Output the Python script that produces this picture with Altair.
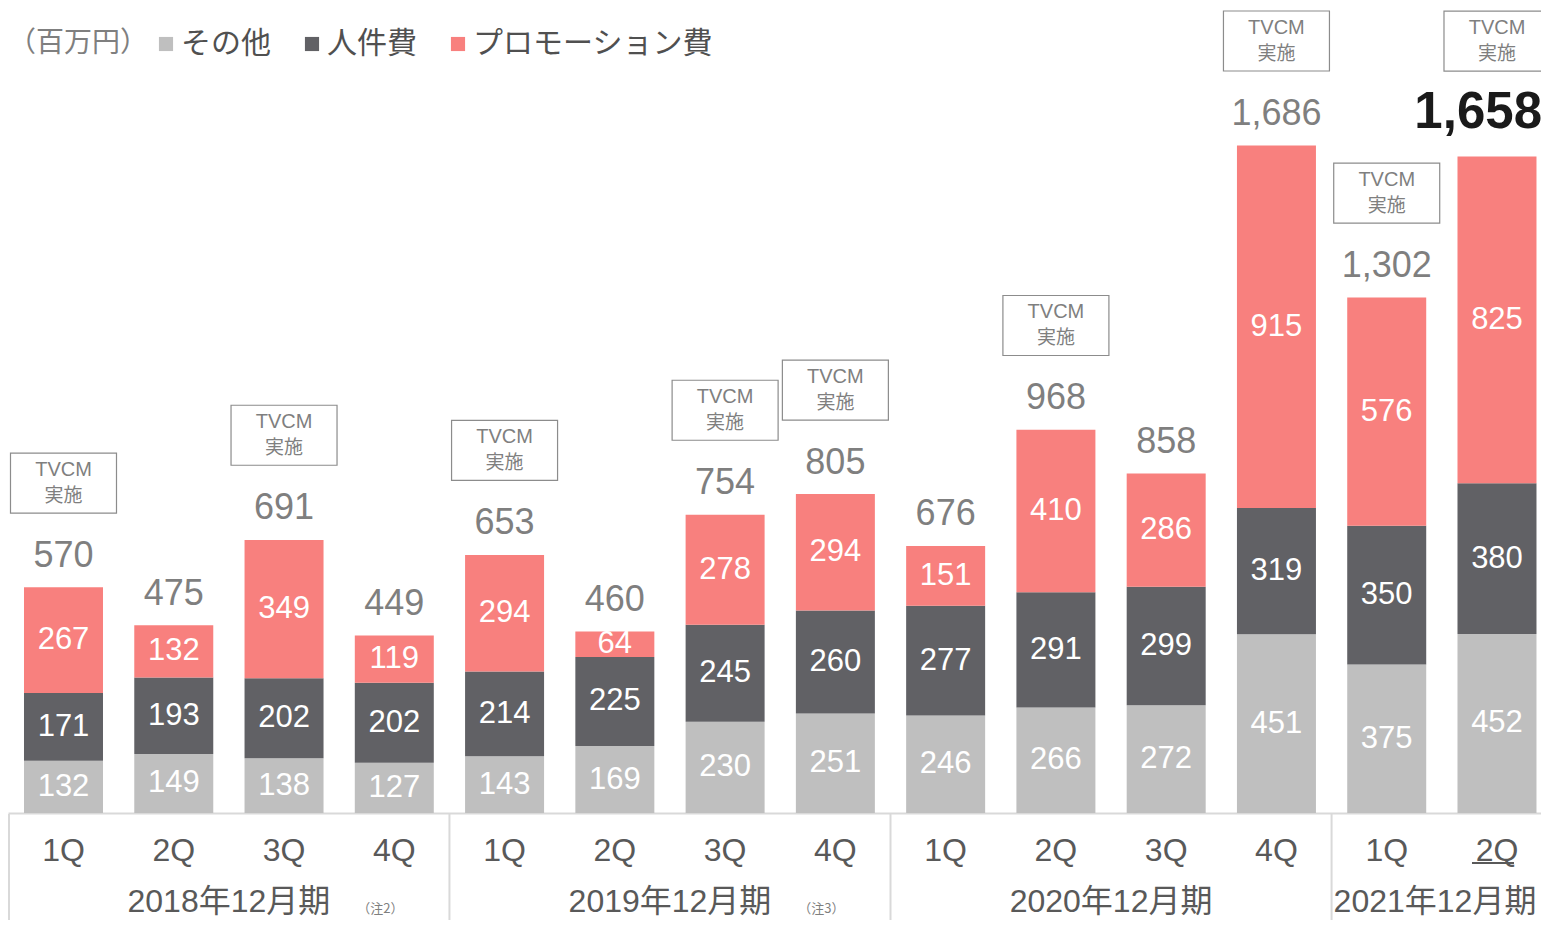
import altair as alt
import pandas as pd

# ---------------- data ----------------
years = ["2018年12月期"] * 4 + ["2019年12月期"] * 4 + ["2020年12月期"] * 4 + ["2021年12月期"] * 2
quarters = ["1Q", "2Q", "3Q", "4Q"] * 3 + ["1Q", "2Q"]
other = [132, 149, 138, 127, 143, 169, 230, 251, 246, 266, 272, 451, 375, 452]
labor = [171, 193, 202, 202, 214, 225, 245, 260, 277, 291, 299, 319, 350, 380]
promo = [267, 132, 349, 119, 294, 64, 278, 294, 151, 410, 286, 915, 576, 825]
totals = [570, 475, 691, 449, 653, 460, 754, 805, 676, 968, 858, 1686, 1302, 1658]
tvcm = [1, 0, 1, 0, 1, 0, 1, 1, 0, 1, 0, 1, 1, 1]
highlight = [0] * 13 + [1]
series = ["その他", "人件費", "プロモーション費"]
colors = ["#bfbfbf", "#616165", "#f8807e"]
year_names = ["2018年12月期", "2019年12月期", "2020年12月期", "2021年12月期"]
notes = ["（注2）", "（注3）", "", ""]
unit_title = "（百万円）"
box_line1 = "TVCM"
box_line2 = "実施"

keys = [f"{y}-{q}" for y, q in zip(years, quarters)]

rows = []
for i, k in enumerate(keys):
    for j, (s, vals) in enumerate(zip(series, [other, labor, promo])):
        rows.append({"key": k, "series": s, "ord": j, "value": vals[i]})
long_df = pd.DataFrame(rows)
tot_df = pd.DataFrame({"key": keys, "total": totals, "tvcm": tvcm, "hl": highlight})

# ---------------- layout constants ----------------
W, H = 1533, 805
BOTTOM = 107
P_IN, P_OUT, ALIGN = 0.2836, 0.093, 0.78
n = len(keys)
step = W / (n - P_IN + 2 * P_OUT)
start = (W - step * (n - P_IN)) * ALIGN
bw = step * (1 - P_IN)
centers = [start + step * i + bw / 2 for i in range(n)]

NUM_FONT = "Liberation Sans, Arial, Noto Sans CJK JP"
CJK_FONT = "Noto Sans CJK JP, Liberation Sans"

xenc = alt.X(
    "key:N",
    sort=keys,
    scale=alt.Scale(paddingInner=P_IN, paddingOuter=P_OUT, align=ALIGN),
    axis=alt.Axis(
        title=None,
        labelExpr="split(datum.label, '-')[1]",
        labelAngle=0,
        labelFont=NUM_FONT,
        labelFontSize=32,
        labelColor="#595959",
        labelPadding=37,
        labelBaseline="middle",
        ticks=False,
        grid=False,
        domainColor="#d9d9d9",
        domainWidth=2,
    ),
)
yscale = alt.Scale(domain=[0, H / 0.3962], nice=False, zero=True)

base_long = alt.Chart(long_df).transform_stack(
    stack="value",
    groupby=["key"],
    as_=["v0", "v1"],
    sort=[alt.SortField("ord", order="ascending")],
).transform_calculate(mid="(datum.v0 + datum.v1) / 2")

bars = base_long.mark_bar(strokeWidth=0).encode(
    x=xenc,
    y=alt.Y("v0:Q", scale=yscale, axis=None),
    y2="v1:Q",
    color=alt.Color(
        "series:N",
        scale=alt.Scale(domain=series, range=colors),
        legend=alt.Legend(
            title=unit_title,
            orient="none",
            legendX=0,
            legendY=21,
            direction="horizontal",
            titleOrient="left",
            titleFont=CJK_FONT,
            titleFontSize=28,
            titleFontWeight="normal",
            titleColor="#7f7f7f",
            titlePadding=2,
            titleBaseline="middle",
            labelFont=CJK_FONT,
            labelFontSize=30,
            labelColor="#505050",
            labelOffset=0,
            labelLimit=0,
            symbolType="square",
            symbolSize=200,
            symbolStrokeWidth=0,
            columnPadding=26,
        ),
    ),
    order=alt.Order("ord:Q"),
)

seg_labels = base_long.mark_text(
    font=NUM_FONT, fontSize=31, color="white", baseline="middle"
).encode(
    x=xenc,
    y=alt.Y("mid:Q", scale=yscale, axis=None),
    text=alt.Text("value:Q"),
)

base_tot = alt.Chart(tot_df)

tot_labels = base_tot.transform_filter("datum.hl == 0").mark_text(
    font=NUM_FONT, fontSize=36, color="#7f7f7f", baseline="middle", dy=-31
).encode(
    x=xenc,
    y=alt.Y("total:Q", scale=yscale, axis=None),
    text=alt.Text("total:Q", format=","),
)

tot_hl = base_tot.transform_filter("datum.hl == 1").mark_text(
    font=NUM_FONT, fontSize=51, fontWeight="bold", color="#1a1a1a",
    baseline="middle", align="right", dx=45, dy=-43
).encode(
    x=xenc,
    y=alt.Y("total:Q", scale=yscale, axis=None),
    text=alt.Text("total:Q", format=","),
)


def box_layers(filter_expr, top, bottom):
    b = base_tot.transform_filter(filter_expr)
    box = b.mark_bar(
        width=106, fill="white", stroke="#8c8c8c", strokeWidth=1.2,
        yOffset=top, y2Offset=bottom
    ).encode(
        x=xenc,
        y=alt.Y("total:Q", scale=yscale, axis=None),
        y2="total:Q",
    )
    t1 = b.mark_text(
        font=NUM_FONT, fontSize=20, color="#7f7f7f", baseline="middle", dy=top + 17
    ).encode(
        x=xenc, y=alt.Y("total:Q", scale=yscale, axis=None), text=alt.value(box_line1)
    )
    t2 = b.mark_text(
        font=CJK_FONT, fontSize=19, color="#7f7f7f", baseline="middle", dy=top + 43
    ).encode(
        x=xenc, y=alt.Y("total:Q", scale=yscale, axis=None), text=alt.value(box_line2)
    )
    return [box, t1, t2]


boxes = box_layers("datum.tvcm == 1 && datum.hl == 0", -134, -74) + box_layers(
    "datum.tvcm == 1 && datum.hl == 1", -145, -85
)

dummy = alt.Data(values=[{}])
deco = []
# vertical separators between fiscal years
sep_x = [1.0]
for i in range(1, n):
    if years[i] != years[i - 1]:
        sep_x.append(start + step * i - step * P_IN / 2)
for sx in sep_x:
    deco.append(
        alt.Chart(dummy).mark_rule(color="#d9d9d9", strokeWidth=2).encode(
            x=alt.value(sx), y=alt.value(H + 1), y2=alt.value(H + BOTTOM + 10)
        )
    )
# year labels and notes
for yname, note in zip(year_names, notes):
    idx = [i for i, y in enumerate(years) if y == yname]
    cx = sum(centers[i] for i in idx) / len(idx)
    cx = min(cx, W - 106)  # keep the last label inside the canvas
    deco.append(
        alt.Chart(dummy).mark_text(
            font=NUM_FONT, fontSize=32, color="#595959", baseline="middle"
        ).encode(x=alt.value(cx), y=alt.value(H + 89), text=alt.value(yname))
    )
    if note:
        nx = centers[idx[-1]] - 14
        deco.append(
            alt.Chart(dummy).mark_text(
                font=CJK_FONT, fontSize=13, color="#7f7f7f", baseline="middle"
            ).encode(x=alt.value(nx), y=alt.value(H + 96), text=alt.value(note))
        )
# underline under the latest quarter label
cl = centers[-1] - 4
deco.append(
    alt.Chart(dummy).mark_rule(color="#595959", strokeWidth=2).encode(
        x=alt.value(cl - 21), x2=alt.value(cl + 21), y=alt.value(H + 50)
    )
)

chart = alt.layer(bars, seg_labels, tot_labels, tot_hl, *boxes, *deco).properties(
    width=W,
    height=H,
    autosize=alt.AutoSizeParams(type="none"),
    padding={"left": 0, "top": 0, "right": 0, "bottom": BOTTOM},
).configure_view(stroke=None)

chart.save("out.html", embed_options={"renderer": "svg", "actions": False})
